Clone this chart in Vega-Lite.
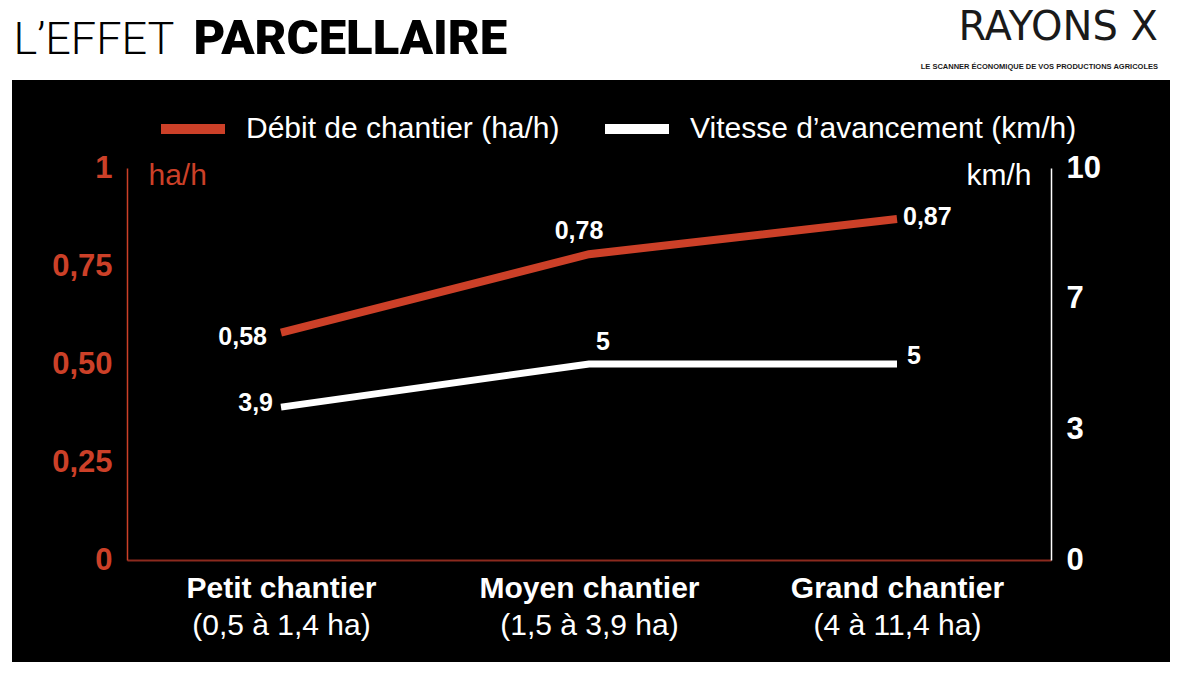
{
  "$schema": "https://vega.github.io/schema/vega-lite/v6.json",
  "width": 1158,
  "height": 582,
  "autosize": {"type": "none"},
  "padding": {"left": 12, "top": 80, "right": 30, "bottom": 13},
  "background": "white",
  "config": {
    "view": {"fill": "black", "stroke": null},
    "font": "Liberation Sans, sans-serif"
  },
  "title": {
    "text": "RAYONS X",
    "subtitle": "LE SCANNER ÉCONOMIQUE DE VOS PRODUCTIONS AGRICOLES",
    "anchor": "end",
    "frame": "group",
    "dx": -12,
    "dy": 66,
    "offset": 10,
    "font": "DejaVu Sans",
    "fontSize": 40,
    "fontWeight": "normal",
    "color": "#1a1a1a",
    "subtitleFont": "Liberation Sans, sans-serif",
    "subtitleFontSize": 7.5,
    "subtitleFontWeight": "bold",
    "subtitleColor": "#1a1a1a",
    "subtitlePadding": 15
  },
  "data": {
    "values": [
      {"cat": "Petit  chantier", "series": "Débit de chantier (ha/h)", "value": 0.58},
      {"cat": "Moyen chantier", "series": "Débit de chantier (ha/h)", "value": 0.78},
      {"cat": "Grand chantier", "series": "Débit de chantier (ha/h)", "value": 0.87},
      {"cat": "Petit  chantier", "series": "Vitesse d’avancement (km/h)", "value": 3.9},
      {"cat": "Moyen chantier", "series": "Vitesse d’avancement (km/h)", "value": 5},
      {"cat": "Grand chantier", "series": "Vitesse d’avancement (km/h)", "value": 5}
    ]
  },
  "transform": [
    {"calculate": "replace(toString(datum.value), '.', ',')", "as": "label"}
  ],
  "layer": [
    {
      "transform": [{"filter": "datum.series == 'Débit de chantier (ha/h)'"}],
      "encoding": {
        "x": {
          "field": "cat", "type": "ordinal", "sort": null,
          "scale": {"type": "point", "padding": 0.5, "range": [115, 1039]},
          "axis": {
            "orient": "bottom", "offset": -102,
            "domain": true, "domainColor": "#8c2a1e", "domainWidth": 2,
            "ticks": false, "grid": false,
            "labelFontSize": 30, "labelFontWeight": "bold", "labelColor": "white",
            "labelPadding": 13, "labelAngle": 0, "labelLimit": 400,
            "title": "L’EFFET",
            "titleFont": "Roboto", "titleFontWeight": 300, "titleFontSize": 45,
            "titleColor": "black", "titleX": 1, "titleY": -507,
            "titleAlign": "left", "titleAnchor": "start", "titleBaseline": "alphabetic",
            "titleLimit": 1000
          }
        },
        "y": {
          "field": "value", "type": "quantitative",
          "scale": {"domain": [0, 1], "range": [480, 88], "nice": false, "zero": true},
          "axis": {
            "orient": "left", "offset": -115,
            "values": [0, 0.25, 0.5, 0.75, 1],
            "labelExpr": "datum.value == 0 || datum.value == 1 ? format(datum.value, 'd') : replace(format(datum.value, '.2f'), '.', ',')",
            "domain": true, "domainColor": "#cc4028", "domainWidth": 1.5,
            "ticks": false, "grid": false,
            "labelFontSize": 31, "labelFontWeight": "bold", "labelColor": "#cc4028",
            "labelPadding": 15,
            "title": "ha/h", "titleAngle": 0, "titleFontSize": 30, "titleFontWeight": "normal",
            "titleColor": "#cc4028", "titleX": 21, "titleY": 104,
            "titleAlign": "left", "titleBaseline": "alphabetic"
          }
        }
      },
      "layer": [
        {
          "mark": {"type": "line", "strokeWidth": 8, "strokeCap": "butt"},
          "encoding": {
            "color": {
              "field": "series", "type": "nominal",
              "scale": {"domain": ["Débit de chantier (ha/h)", "Vitesse d’avancement (km/h)"], "range": ["#cc4028", "#ffffff"]},
              "legend": {
                "orient": "none", "legendX": 144, "legendY": 12,
                "direction": "horizontal", "title": null,
                "symbolType": "stroke", "symbolStrokeWidth": 10, "symbolSize": 4096,
                "labelFontSize": 30, "labelColor": "white", "labelOffset": 16,
                "labelLimit": 600, "columnPadding": 25
              }
            }
          }
        },
        {
          "transform": [{"filter": "datum.cat == 'Petit  chantier'"}],
          "mark": {"type": "text", "align": "right", "baseline": "middle", "dx": -14, "dy": 4, "fontSize": 25, "fontWeight": "bold", "color": "white"},
          "encoding": {"text": {"field": "label"}}
        },
        {
          "transform": [{"filter": "datum.cat == 'Moyen chantier'"}],
          "mark": {"type": "text", "align": "center", "baseline": "middle", "dx": -10, "dy": -23, "fontSize": 25, "fontWeight": "bold", "color": "white"},
          "encoding": {"text": {"field": "label"}}
        },
        {
          "transform": [{"filter": "datum.cat == 'Grand chantier'"}],
          "mark": {"type": "text", "align": "left", "baseline": "middle", "dx": 6, "dy": -2, "fontSize": 25, "fontWeight": "bold", "color": "white"},
          "encoding": {"text": {"field": "label"}}
        }
      ]
    },
    {
      "transform": [{"filter": "datum.series == 'Vitesse d’avancement (km/h)'"}],
      "encoding": {
        "x": {
          "field": "cat", "type": "ordinal", "sort": null,
          "scale": {"type": "point", "padding": 0.5, "range": [115, 1039]},
          "axis": {
            "orient": "bottom", "offset": -102,
            "domain": false, "ticks": false, "grid": false,
            "labelExpr": "datum.label == 'Petit  chantier' ? '(0,5 à 1,4 ha)' : datum.label == 'Moyen chantier' ? '(1,5 à 3,9 ha)' : '(4 à 11,4 ha)'",
            "labelFontSize": 30, "labelFontWeight": "normal", "labelColor": "white",
            "labelPadding": 50, "labelAngle": 0, "labelLimit": 400,
            "title": "PARCELLAIRE",
            "titleFont": "Roboto", "titleFontWeight": 900, "titleFontSize": 49,
            "titleColor": "black", "titleX": 181, "titleY": -507,
            "titleAlign": "left", "titleAnchor": "start", "titleBaseline": "alphabetic",
            "titleLimit": 1000
          }
        },
        "y": {
          "field": "value", "type": "quantitative",
          "scale": {"domain": [0, 10], "range": [480, 88], "nice": false, "zero": true},
          "axis": {
            "orient": "right", "offset": -119,
            "values": [0, 3.3333333, 6.6666667, 10],
            "labelExpr": "format(datum.value, '.0f')",
            "domain": true, "domainColor": "white", "domainWidth": 1.5,
            "ticks": false, "grid": false,
            "labelFontSize": 31, "labelFontWeight": "bold", "labelColor": "white",
            "labelPadding": 15,
            "title": "km/h", "titleAngle": 0, "titleFontSize": 30, "titleFontWeight": "normal",
            "titleColor": "white", "titleX": -20, "titleY": 104,
            "titleAlign": "right", "titleBaseline": "alphabetic"
          }
        }
      },
      "layer": [
        {
          "mark": {"type": "line", "strokeWidth": 7, "strokeCap": "butt"},
          "encoding": {
            "color": {"field": "series", "type": "nominal"}
          }
        },
        {
          "transform": [{"filter": "datum.cat == 'Petit  chantier'"}],
          "mark": {"type": "text", "align": "right", "baseline": "middle", "dx": -8, "dy": -4, "fontSize": 25, "fontWeight": "bold", "color": "white"},
          "encoding": {"text": {"field": "label"}}
        },
        {
          "transform": [{"filter": "datum.cat == 'Moyen chantier'"}],
          "mark": {"type": "text", "align": "center", "baseline": "middle", "dx": 14, "dy": -22, "fontSize": 25, "fontWeight": "bold", "color": "white"},
          "encoding": {"text": {"field": "label"}}
        },
        {
          "transform": [{"filter": "datum.cat == 'Grand chantier'"}],
          "mark": {"type": "text", "align": "left", "baseline": "middle", "dx": 10, "dy": -8, "fontSize": 25, "fontWeight": "bold", "color": "white"},
          "encoding": {"text": {"field": "label"}}
        }
      ]
    }
  ],
  "resolve": {
    "scale": {"y": "independent"},
    "axis": {"x": "independent", "y": "independent"}
  }
}
